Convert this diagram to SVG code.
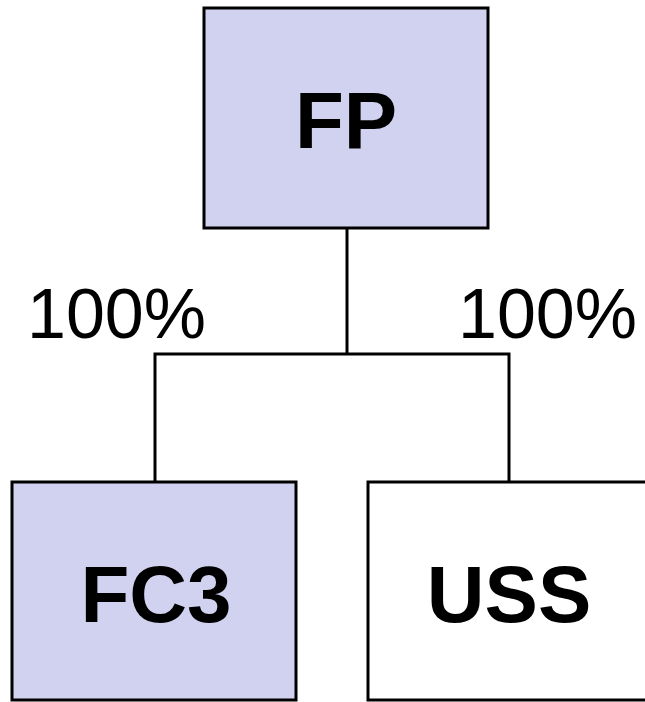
<svg xmlns="http://www.w3.org/2000/svg" width="645" height="702" viewBox="0 0 645 702">
  <style>
    .box { stroke: #000; stroke-width: 3; }
    .shaded { fill: #D1D2EF; }
    .plain { fill: #FFFFFF; }
    .name { font-family: "Liberation Sans", Arial, sans-serif; font-weight: bold; font-size: 80px; fill: #000; text-anchor: middle; }
    .pct { font-family: "Liberation Sans", Arial, sans-serif; font-size: 70px; fill: #000; }
    .conn { fill: none; stroke: #000; stroke-width: 3; }
  </style>
  <rect width="645" height="702" fill="#FFFFFF"/>
  <g id="connectors">
    <line class="conn" x1="347" y1="228" x2="347" y2="354"/>
    <polyline class="conn" points="155,482 155,354 509,354 509,482"/>
  </g>
  <g id="label-left">
    <text class="pct" x="27" y="338">100%</text>
  </g>
  <g id="label-right">
    <text class="pct" x="458" y="338">100%</text>
  </g>
  <g id="node-FP">
    <rect class="box shaded" x="204" y="8" width="284" height="220"/>
    <text class="name" x="346" y="148">FP</text>
  </g>
  <g id="node-FC3">
    <rect class="box shaded" x="12" y="482" width="284" height="218"/>
    <text class="name" x="156" y="622">FC3</text>
  </g>
  <g id="node-USS">
    <rect class="box plain" x="368" y="482" width="282" height="218"/>
    <text class="name" x="509" y="622">USS</text>
  </g>
</svg>
